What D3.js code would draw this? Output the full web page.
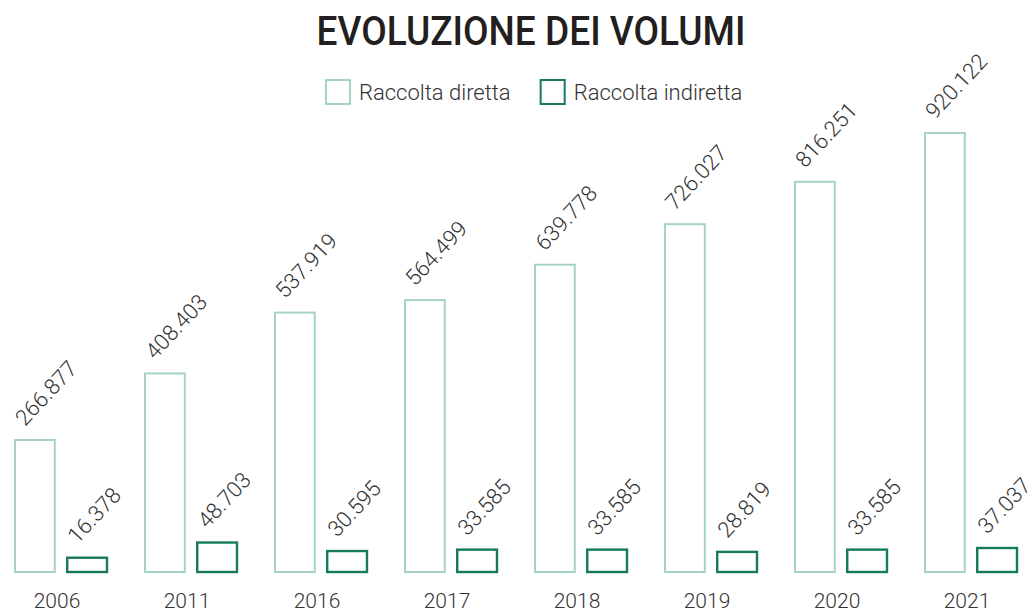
<!DOCTYPE html>
<html>
<head>
<meta charset="utf-8">
<script src="https://cdn.jsdelivr.net/npm/d3@7"></script>
<style>
  html, body { margin: 0; padding: 0; background: #fff; }
  #chart { width: 1036px; height: 612px; }
  text { font-family: Roboto, 'Noto Sans', sans-serif; }
</style>
</head>
<body>
<div id="chart"></div>
<script>
// Data
var years = ['2006', '2011', '2016', '2017', '2018', '2019', '2020', '2021']
var diretta = [266.877, 408.403, 537.919, 564.499, 639.778, 726.027, 816.251, 920.122]
var indiretta = [16.378, 48.703, 30.595, 33.585, 33.585, 28.819, 33.585, 37.037]
var seriesNames = ['Raccolta diretta', 'Raccolta indiretta']
var seriesKeys = ['diretta', 'indiretta']
var colors = ['#a5d3c7', '#17795e']

var width = 1036, height = 612
var baseline = 572

var svg = d3.select('#chart')
            .append('svg')
            .attr('width', width)
            .attr('height', height)

// Title
svg.append('text')
   .attr('x', 531)
   .attr('y', 45)
   .attr('text-anchor', 'middle')
   .attr('textLength', 429)
   .attr('lengthAdjust', 'spacingAndGlyphs')
   .style('font-size', '41px')
   .style('font-weight', 500)
   .style('fill', '#231f20')
   .text('EVOLUZIONE DEI VOLUMI')

// Legend
var legend = svg.append('g').attr('transform', 'translate(325,79)')
var lx = 0
seriesNames.forEach(function(name, i) {
  var item = legend.append('g').attr('transform', 'translate(' + lx + ',0)')
  item.append('rect')
      .attr('x', 1).attr('y', 1)
      .attr('width', 24).attr('height', 24)
      .attr('fill', 'none')
      .attr('stroke', colors[i])
      .attr('stroke-width', 2)
  var t = item.append('text')
      .attr('x', 34)
      .attr('y', 21)
      .style('font-size', '22px')
      .style('font-weight', 300)
      .style('fill', '#333')
      .text(name)
  lx += 34 + t.node().getComputedTextLength() + 29
})

// Scales
var x0 = d3.scaleBand()
           .domain(years)
           .range([14, 1018])
           .paddingInner(0.277)
           .paddingOuter(0)

var x1 = d3.scaleBand()
           .domain(seriesKeys)
           .range([0, x0.bandwidth()])
           .paddingInner(0.2)
           .paddingOuter(0)

var y = d3.scaleLinear()
          .domain([-14, 1000])
          .range([baseline, baseline - 1014 * 0.47])

var data = years.map(function(yr, i) {
  return { year: yr, values: [
    { key: 'diretta', value: diretta[i] },
    { key: 'indiretta', value: indiretta[i] }
  ]}
})

var groups = svg.selectAll('.group')
  .data(data)
  .enter()
  .append('g')
  .attr('class', 'group')
  .attr('transform', function(d) { return 'translate(' + x0(d.year) + ',0)' })

groups.selectAll('rect')
  .data(function(d) { return d.values })
  .enter()
  .append('rect')
  .attr('x', function(d) { return x1(d.key) + 1 })
  .attr('y', function(d) { return y(d.value) })
  .attr('width', x1.bandwidth() - 2)
  .attr('height', function(d) { return baseline - y(d.value) })
  .attr('fill', 'none')
  .attr('stroke', function(d, i) { return colors[i] })
  .attr('stroke-width', function(d, i) { return i === 0 ? 2 : 2.4 })

// Value labels, rotated
var fmt = function(v) { return v.toFixed(3) }
groups.selectAll('.val')
  .data(function(d) { return d.values })
  .enter()
  .append('text')
  .attr('class', 'val')
  .attr('transform', function(d) {
    var ax = x1(d.key) + 11
    var ay = y(d.value) - 13
    return 'translate(' + ax + ',' + ay + ') rotate(-47)'
  })
  .style('font-size', '22px')
  .style('font-weight', 300)
  .style('fill', '#333')
  .text(function(d) { return fmt(d.value) })

// Year labels
groups.append('text')
  .attr('x', x0.bandwidth() / 2 - 4)
  .attr('y', 608)
  .attr('text-anchor', 'middle')
  .style('font-size', '21px')
  .style('font-weight', 300)
  .style('fill', '#333')
  .text(function(d) { return d.year })
</script>
</body>
</html>
